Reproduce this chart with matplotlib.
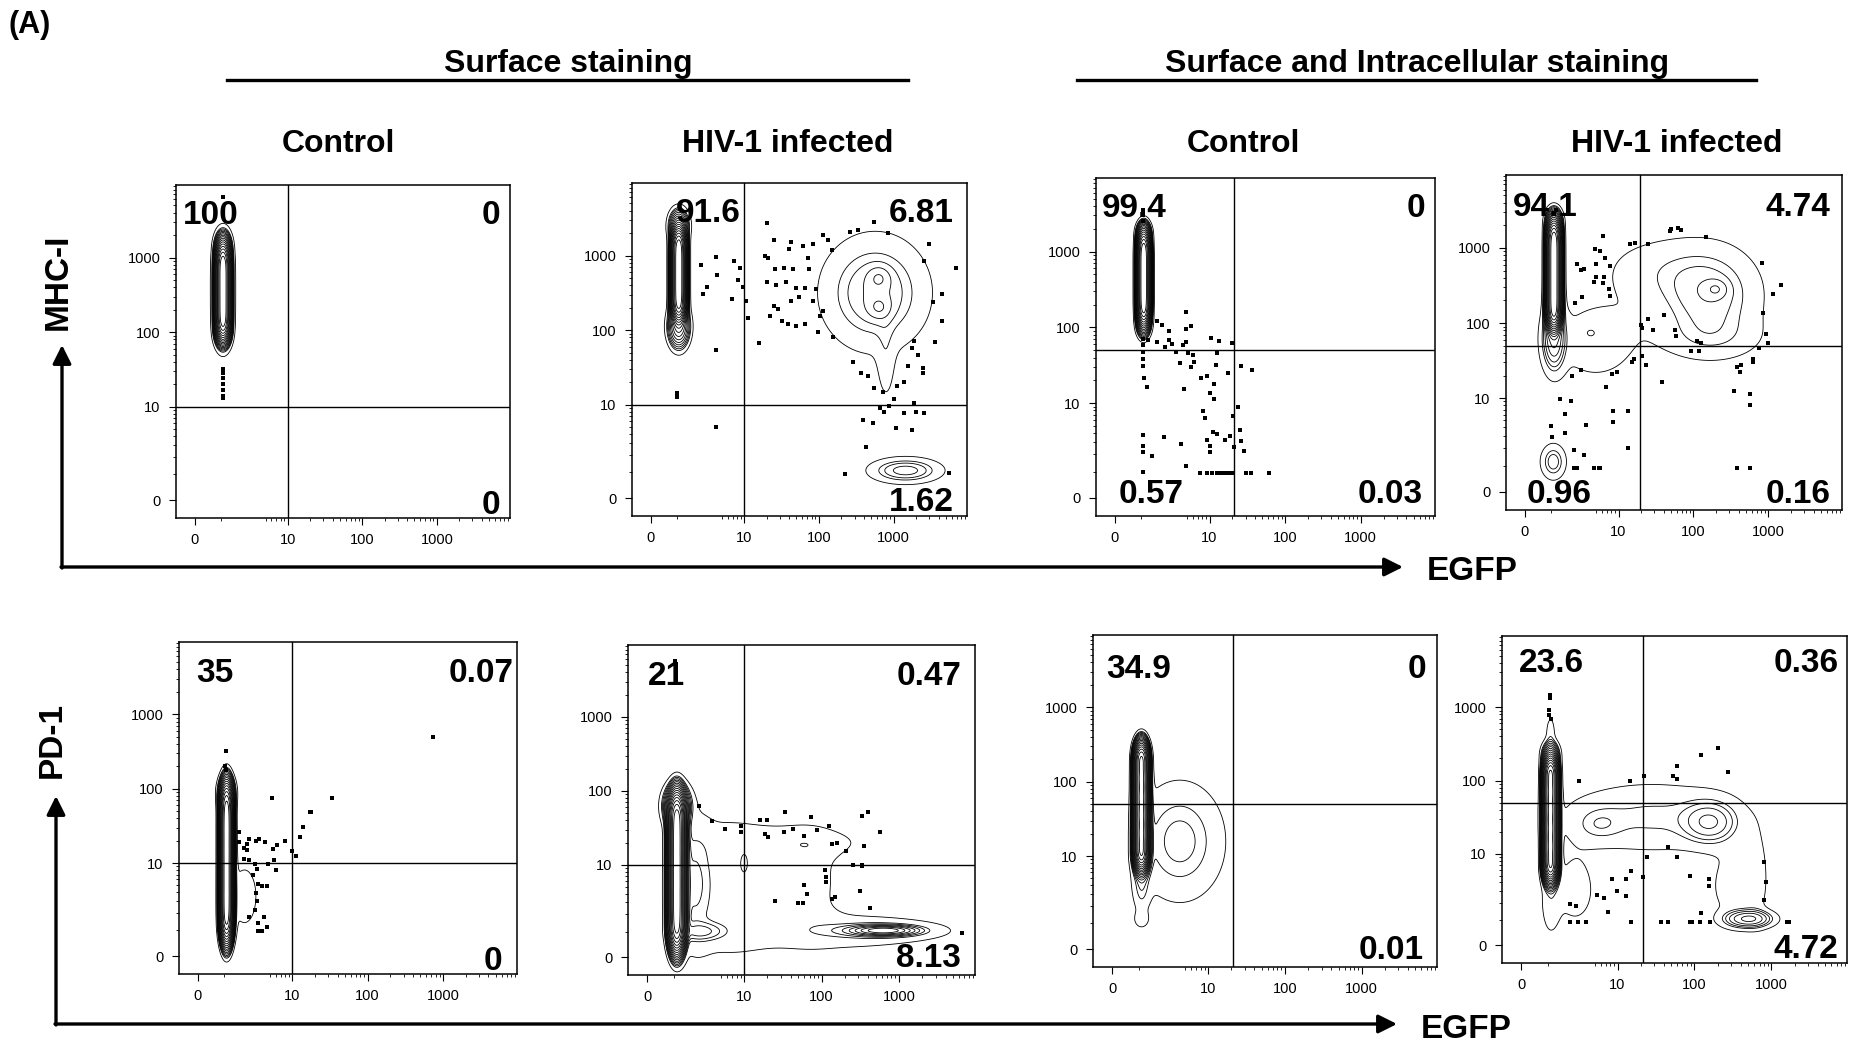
import numpy as np
import matplotlib
matplotlib.use("Agg")
import matplotlib.pyplot as plt
from matplotlib.patches import FancyArrowPatch
from matplotlib.lines import Line2D

plt.rcParams['font.family'] = ['Liberation Sans', 'DejaVu Sans']

# ---------------------------------------------------------------------------
# Data (fluorescence units, EGFP on x, marker on y)
# ---------------------------------------------------------------------------
COLUMN_TITLES = ['Control', 'HIV-1 infected', 'Control', 'HIV-1 infected']
GROUP_TITLES = ['Surface staining', 'Surface and Intracellular staining']
ROW_MARKERS = ['MHC-I', 'PD-1']

# quadrant frequencies (%): upper-left, upper-right, lower-left, lower-right
PCT_MHC_SURF_CTRL = ['100', '0', None, '0']
PCT_MHC_SURF_INF = ['91.6', '6.81', None, '1.62']
PCT_MHC_TOT_CTRL = ['99.4', '0', '0.57', '0.03']
PCT_MHC_TOT_INF = ['94.1', '4.74', '0.96', '0.16']
PCT_PD1_SURF_CTRL = ['35', '0.07', None, '0']
PCT_PD1_SURF_INF = ['21', '0.47', None, '8.13']
PCT_PD1_TOT_CTRL = ['34.9', '0', None, '0.01']
PCT_PD1_TOT_INF = ['23.6', '0.36', None, '4.72']

# quadrant gates (EGFP, marker)
GATE_MHC_SURF_CTRL = (10, 10)
GATE_MHC_SURF_INF = (10, 10)
GATE_MHC_TOT_CTRL = (21.4, 51)
GATE_MHC_TOT_INF = (19.5, 49)
GATE_PD1_SURF_CTRL = (10, 10)
GATE_PD1_SURF_INF = (10, 10)
GATE_PD1_TOT_CTRL = (20.9, 50)
GATE_PD1_TOT_INF = (21.4, 50)

# cell populations: (EGFP centre, marker centre, EGFP spread [decades],
#                    marker spread [decades], relative peak density)
POP_MHC_SURF_CTRL = [
    (1.12, 141, 0.045, 0.12, 1.0), (1.12, 224, 0.045, 0.12, 1.0),
    (1.12, 356, 0.045, 0.12, 1.0), (1.12, 564, 0.045, 0.12, 1.0),
    (1.12, 893, 0.045, 0.12, 1.0), (1.12, 1400, 0.05, 0.1, 0.12),
    (1.12, 100, 0.05, 0.1, 0.12), (1.12, 356, 0.11, 0.6, 0.006),
]
POP_MHC_SURF_INF = [
    (1.1, 224, 0.045, 0.12, 1.0), (1.1, 356, 0.045, 0.12, 1.0),
    (1.1, 564, 0.045, 0.12, 1.0), (1.1, 893, 0.045, 0.12, 1.0),
    (1.1, 1416, 0.045, 0.12, 1.0), (1.1, 112, 0.075, 0.15, 0.08),
    (1.1, 2500, 0.07, 0.12, 0.06),
    (564, 317, 0.42, 0.45, 0.016), (634, 502, 0.1, 0.1, 0.008),
    (634, 200, 0.1, 0.1, 0.008), (790, 35.6, 0.08, 0.35, 0.005),
    (1440, 1.08, 0.28, 0.1, 0.018),
]
POP_MHC_TOT_CTRL = [
    (1.12, 178, 0.04, 0.12, 1.0), (1.12, 283, 0.04, 0.12, 1.0),
    (1.12, 448, 0.04, 0.12, 1.0), (1.12, 710, 0.04, 0.12, 1.0),
    (1.12, 1125, 0.04, 0.12, 1.0), (1.12, 1780, 0.05, 0.08, 0.05),
    (1.12, 112, 0.05, 0.1, 0.05),
]
POP_MHC_TOT_INF = [
    (1.15, 141, 0.045, 0.12, 1.0), (1.15, 224, 0.045, 0.12, 1.0),
    (1.15, 356, 0.045, 0.12, 1.0), (1.15, 564, 0.045, 0.12, 1.0),
    (1.15, 893, 0.045, 0.12, 1.0), (1.15, 1416, 0.045, 0.12, 1.0),
    (1.15, 2245, 0.06, 0.1, 0.05), (1.15, 63, 0.09, 0.25, 0.03),
    (159, 235, 0.42, 0.4, 0.014), (200, 283, 0.1, 0.08, 0.008),
    (31.7, 502, 0.5, 0.3, 0.005), (4.9, 56, 0.45, 0.4, 0.005),
    (178, 63, 0.45, 0.2, 0.005), (4.2, 74, 0.05, 0.04, 0.005),
    (1.12, 1.2, 0.1, 0.14, 0.014),
]
POP_PD1_SURF_CTRL = [
    (1.12, 1.61, 0.04, 0.17, 1.0), (1.12, 3.47, 0.04, 0.17, 1.0),
    (1.12, 7.06, 0.04, 0.17, 1.0), (1.12, 14.2, 0.04, 0.17, 1.0),
    (1.12, 28.3, 0.04, 0.17, 1.0), (1.12, 56.4, 0.04, 0.17, 1.0),
    (1.12, 89, 0.06, 0.12, 0.05), (2.2, 3.5, 0.15, 0.35, 0.005),
]
POP_PD1_SURF_INF = [
    (1.12, 1.19, 0.05, 0.17, 1.0), (1.12, 2.72, 0.05, 0.17, 1.0),
    (1.12, 5.58, 0.05, 0.17, 1.0), (1.12, 11.2, 0.05, 0.17, 1.0),
    (1.12, 22.4, 0.05, 0.17, 1.0), (1.12, 44.8, 0.05, 0.17, 1.0),
    (1.12, 63, 0.09, 0.15, 0.08),
    (564, 1.05, 0.45, 0.07, 0.012), (634, 1.05, 0.22, 0.035, 0.06),
    (5.6, 5.0, 0.5, 0.75, 0.005), (45, 20, 0.65, 0.15, 0.005),
    (71, 6.3, 0.25, 0.45, 0.005), (178, 1.0, 0.9, 0.2, 0.005),
    (2.7, 1.0, 0.2, 0.08, 0.012), (2.1, 5.6, 0.15, 0.5, 0.009),
    (10, 10, 0.05, 0.12, 0.005),
]
POP_PD1_TOT_CTRL = [
    (1.12, 11.2, 0.045, 0.12, 1.0), (1.12, 20, 0.045, 0.12, 1.0),
    (1.12, 35.6, 0.045, 0.12, 1.0), (1.12, 63, 0.045, 0.12, 1.0),
    (1.12, 112, 0.045, 0.12, 1.0), (1.12, 200, 0.045, 0.12, 1.0),
    (4.2, 15.8, 0.35, 0.48, 0.013), (1.12, 1.19, 0.06, 0.07, 0.006),
    (1.12, 4.4, 0.07, 0.25, 0.01),
]
POP_PD1_TOT_INF = [
    (1.12, 7.06, 0.045, 0.12, 1.0), (1.12, 12.6, 0.045, 0.12, 1.0),
    (1.12, 22.4, 0.045, 0.12, 1.0), (1.12, 39.9, 0.045, 0.12, 1.0),
    (1.12, 70.9, 0.045, 0.12, 1.0), (1.12, 126, 0.045, 0.12, 1.0),
    (1.12, 224, 0.06, 0.1, 0.05), (1.12, 448, 0.04, 0.15, 0.006),
    (1.12, 2.1, 0.08, 0.3, 0.006),
    (28, 31.7, 0.75, 0.3, 0.009), (5.6, 25, 0.2, 0.15, 0.006),
    (159, 27, 0.22, 0.18, 0.018), (502, 1.05, 0.19, 0.075, 0.03),
    (634, 5.0, 0.1, 0.4, 0.005), (317, 3.5, 0.22, 0.35, 0.005),
    (2.7, 3.1, 0.2, 0.35, 0.005),
]

# single events drawn as dots (EGFP, marker)
DOTS_MHC_SURF_CTRL = [(1.1, 32), (1.1, 28), (1.1, 24), (1.1, 20), (1.1, 17),
                      (1.1, 14), (1.1, 13), (1.1, 6500)]
DOTS_MHC_SURF_INF = [
    (20, 2700), (25, 1600), (19, 980), (21, 940), (40, 1230), (43, 1520),
    (62, 1350), (83, 1420), (71, 940), (74, 660), (26, 660), (34, 690),
    (45, 660), (20, 440), (27, 400), (36, 440), (49, 370), (55, 276),
    (65, 370), (83, 246), (91, 356), (25, 214), (28, 190), (22, 155),
    (32, 132), (39, 120), (49, 115), (65, 120), (43, 246), (112, 182),
    (105, 155), (98, 94), (155, 80), (112, 1870), (132, 1590), (152, 1180),
    (258, 2090), (332, 2190), (552, 2830), (835, 2000), (2960, 1420),
    (2580, 835), (6780, 690), (4480, 303), (3320, 235), (4480, 132),
    (3560, 69), (1870, 71), (1780, 58), (2090, 47), (1550, 33), (2450, 31),
    (2450, 27), (1380, 20), (1125, 18), (283, 38), (364, 27), (448, 24),
    (552, 16.6), (710, 15), (650, 8.9), (743, 8.1), (874, 9.6),
    (1026, 11.8), (1380, 7.8), (1870, 10.5), (2000, 8.1), (2580, 7.8),
    (390, 6.3), (527, 5.6), (1074, 4.8), (1780, 4.5), (427, 2.6),
    (225, 0.92), (5500, 0.96), (4.2, 957), (4.3, 540), (2.5, 743),
    (2.7, 303), (3.1, 373), (7.4, 855), (8.7, 677), (8.3, 470), (6.9, 263),
    (9.5, 373), (10.7, 246), (11.2, 145), (15.9, 68), (4.1, 55), (4.1, 5.0),
    (1.0, 14.2), (1.0, 12.6),
]
DOTS_MHC_TOT_CTRL = [
    (1.1, 3500), (1.1, 3040), (1.1, 2570), (1.1, 71), (1.1, 58), (1.1, 47),
    (1.1, 38), (1.1, 31), (1.85, 120), (2.2, 107), (2.85, 89), (1.35, 68),
    (1.85, 65), (2.8, 68), (3.1, 60), (2.5, 55), (3.5, 47), (4.0, 34),
    (4.4, 58), (4.8, 162), (4.8, 94), (5.6, 103), (4.9, 65), (5.2, 46),
    (5.6, 30), (6.0, 43), (6.2, 35), (4.5, 15.5), (10.4, 73), (13.5, 66),
    (20, 63), (12.6, 46), (12.3, 32), (17.8, 25), (7.8, 21.4), (9.2, 23),
    (11.5, 17.8), (10, 13.5), (11.5, 11.2), (8.3, 7.8), (8.7, 6.3),
    (9.2, 3.2), (10, 2.6), (10, 2.1), (11.2, 4.1), (12.6, 3.9), (15.9, 3.2),
    (18.7, 3.6), (20.5, 6.8), (21, 2.5), (23.5, 8.9), (25, 4.3), (26, 3.1),
    (29, 2.2), (26, 31), (36.4, 27.5), (1.12, 21.4), (1.3, 16.2),
    (1.1, 3.7), (1.1, 2.6), (1.1, 2.1), (1.1, 0.96), (1.55, 1.85),
    (2.4, 3.5), (4.1, 2.8), (4.8, 1.27), (7.5, 0.92), (9.2, 0.92),
    (10.7, 0.92), (12.6, 0.92), (14.3, 0.92), (16.2, 0.92), (17.8, 0.92),
    (20, 0.92), (30, 0.92), (35, 0.92), (62, 0.92),
]
DOTS_MHC_TOT_INF = [
    (6.1, 1450), (4.8, 980), (5.7, 915), (6.6, 743), (2.7, 618), (3.4, 527),
    (3.1, 503), (5.0, 618), (5.0, 408), (6.3, 408), (4.6, 356), (6.1, 340),
    (7.4, 283), (7.8, 230), (7.8, 577), (3.2, 220), (2.5, 187), (14.3, 1125),
    (16.6, 1180), (24.6, 1125), (48, 1660), (51, 1780), (62, 1870),
    (68, 1750), (145, 1420), (815, 630), (1480, 324), (1150, 246),
    (850, 135), (935, 71), (1000, 54), (760, 46), (630, 33), (630, 30),
    (436, 28), (380, 26), (418, 22), (348, 12.6), (564, 11.2), (564, 8.1),
    (93, 42), (118, 42), (112, 58), (126, 54), (41, 130), (56, 81), (59, 68),
    (29, 80), (24.6, 112), (20, 94), (20.5, 36), (20.5, 85), (23.5, 27.5),
    (16, 33), (15, 30), (38, 16.6), (6.8, 14.2), (8.3, 21), (9.5, 22),
    (3.1, 24), (2.3, 19.5), (8.5, 6.8), (8.5, 4.8), (13.2, 6.6), (13.2, 2.0),
    (1.5, 9.8), (2.2, 9.1), (1.75, 6.1), (1.8, 3.3), (3.6, 4.3), (3.4, 1.55),
    (2.4, 1.9), (1.0, 4.2), (1.05, 2.9), (2.4, 0.92), (2.65, 0.92),
    (4.6, 0.9), (5.5, 0.92), (5.7, 0.92), (380, 0.92), (564, 0.92),
    (1.25, 3170),
]
DOTS_PD1_SURF_CTRL = [
    (1.1, 324), (1.05, 204), (1.1, 180), (5.3, 74), (34, 74), (17.4, 48),
    (18, 48), (14, 31), (12.6, 22.4), (11.2, 12.3), (10, 14.5), (8.1, 20),
    (6.3, 17.4), (5.6, 15.5), (5.7, 11), (6, 8.1), (4.8, 9.8), (4.3, 19),
    (3.6, 21), (3.2, 20), (2.6, 21), (2.4, 18), (2.2, 16.2), (2.4, 15),
    (1.85, 19.4), (1.8, 26), (2.2, 11.5), (2.6, 11), (3.1, 9.8), (3.35, 8.3),
    (2.9, 6.8), (3.5, 5.2), (3.9, 4.9), (4.6, 4.8), (3.25, 3.9), (3.35, 3.0),
    (3.1, 2.2), (3.5, 1.35), (3.9, 0.96), (4.6, 1.15), (4.2, 1.75),
    (2.6, 1.75), (3.5, 0.96), (730, 503),
]
DOTS_PD1_SURF_INF = [
    (1.05, 5640), (2.5, 63), (3.8, 39), (5.7, 30.5), (9.2, 28), (9.2, 33),
    (16.2, 41), (19.6, 41), (18.7, 26), (20.5, 23.5), (34, 51), (32.6, 27.5),
    (43, 30.5), (60, 24.6), (73, 44), (87, 29.5), (123, 33), (138, 19),
    (159, 20), (209, 15.5), (332, 46), (400, 51), (356, 17.8), (564, 28),
    (258, 9.8), (332, 9.8), (332, 9.6), (110, 8.5), (115, 6.9), (115, 5.9),
    (317, 4.4), (427, 2.5), (59, 5.2), (65, 3.9), (50, 2.9), (58, 2.9),
    (135, 3.4), (148, 3.6), (25, 3.1), (6480, 0.92),
]
DOTS_PD1_TOT_CTRL = []
DOTS_PD1_TOT_INF = [
    (1.1, 1450), (1.1, 1330), (1.05, 915), (1.05, 780), (1.15, 700),
    (3.1, 98), (22, 115), (14.5, 98), (53, 115), (59, 105), (59, 159),
    (123, 224), (200, 276), (270, 132), (46, 12.3), (59, 9.1), (24, 9.1),
    (21.5, 4.8), (14.8, 5.8), (12.9, 4.4), (12.9, 2.5), (9.8, 3.0),
    (8.5, 4.5), (6.6, 2.4), (5.3, 2.65), (7.4, 1.4), (14.8, 0.92),
    (2.3, 1.9), (2.8, 1.75), (2.3, 0.92), (3.0, 0.92), (3.8, 0.92),
    (37, 0.92), (46, 0.92), (87, 0.92), (93, 0.92), (118, 0.92), (123, 1.35),
    (159, 0.92), (1590, 0.92), (1700, 0.92), (87, 5.0), (155, 3.5),
    (155, 4.4), (795, 7.8), (850, 4.0), (795, 2.2),
]

TICK_VALUES = [0, 10, 100, 1000]
TICK_LABELS = ['0', '10', '100', '1000']

# ---------------------------------------------------------------------------
# Logicle-like display scale (arcsinh)
# ---------------------------------------------------------------------------
C = 1.128


def fwd(v):
    return np.arcsinh(np.asarray(v, dtype=float) / C) / np.log(10)


def inv(u):
    return C * np.sinh(np.asarray(u, dtype=float) * np.log(10))


X_LIM = (float(inv(-0.25)), float(inv(4.23)))
Y_LIM = (float(inv(-0.24)), float(inv(4.22)))
MINOR_X = [1] + [k for k in range(5, 10)] + [k * 10 for k in range(2, 10)] \
    + [k * 100 for k in range(2, 10)] + [k * 1000 for k in range(2, 10)]
MINOR_Y = [k for k in range(1, 10)] + [k * 10 for k in range(2, 10)] \
    + [k * 100 for k in range(2, 10)] + [k * 1000 for k in range(2, 10)]
# outlier contour, then equal-ratio density contours
LEVELS = np.concatenate([[0.003], np.logspace(np.log10(0.008), 0, 16)])

W, H = 1857, 1046
fig = plt.figure(figsize=(W / 100, H / 100), dpi=100)
fig.patch.set_facecolor('white')


def px_box(l, t, r, b):
    return [l / W, 1 - b / H, (r - l) / W, (b - t) / H]


panels = [
    # box (px), populations, dots, gate, percentages, label x/y positions
    ((176, 185, 510, 518), POP_MHC_SURF_CTRL, DOTS_MHC_SURF_CTRL, GATE_MHC_SURF_CTRL,
     PCT_MHC_SURF_CTRL, (0.022, 0.97, 0.05, 0.97, 0.884, 0.012)),
    ((632, 183, 967, 516), POP_MHC_SURF_INF, DOTS_MHC_SURF_INF, GATE_MHC_SURF_INF,
     PCT_MHC_SURF_INF, (0.13, 0.96, 0.05, 0.96, 0.884, 0.014)),
    ((1096, 178, 1435, 516), POP_MHC_TOT_CTRL, DOTS_MHC_TOT_CTRL, GATE_MHC_TOT_CTRL,
     PCT_MHC_TOT_CTRL, (0.017, 0.97, 0.066, 0.965, 0.885, 0.037)),
    ((1506, 175, 1842, 510), POP_MHC_TOT_INF, DOTS_MHC_TOT_INF, GATE_MHC_TOT_INF,
     PCT_MHC_TOT_INF, (0.02, 0.965, 0.06, 0.965, 0.879, 0.02)),
    ((179, 642, 517, 974), POP_PD1_SURF_CTRL, DOTS_PD1_SURF_CTRL, GATE_PD1_SURF_CTRL,
     PCT_PD1_SURF_CTRL, (0.05, 0.99, 0.05, 0.955, 0.879, 0.012)),
    ((628, 645, 975, 975), POP_PD1_SURF_INF, DOTS_PD1_SURF_INF, GATE_PD1_SURF_INF,
     PCT_PD1_SURF_INF, (0.058, 0.96, 0.05, 0.96, 0.879, 0.025)),
    ((1093, 635, 1437, 967), POP_PD1_TOT_CTRL, DOTS_PD1_TOT_CTRL, GATE_PD1_TOT_CTRL,
     PCT_PD1_TOT_CTRL, (0.037, 0.97, 0.05, 0.96, 0.869, 0.025)),
    ((1502, 636, 1847, 963), POP_PD1_TOT_INF, DOTS_PD1_TOT_INF, GATE_PD1_TOT_INF,
     PCT_PD1_TOT_INF, (0.048, 0.976, 0.05, 0.976, 0.891, 0.015)),
]

ug_x = np.linspace(fwd(X_LIM[0]), fwd(X_LIM[1]), 420)
ug_y = np.linspace(fwd(Y_LIM[0]), fwd(Y_LIM[1]), 420)
UX, UY = np.meshgrid(ug_x, ug_y)

for box, pops, dots, gate, pct, lab in panels:
    ax = fig.add_axes(px_box(*box))
    ax.set_xscale('function', functions=(fwd, inv))
    ax.set_yscale('function', functions=(fwd, inv))
    ax.set_xlim(*X_LIM)
    ax.set_ylim(*Y_LIM)

    # density from the populations, drawn as contour lines
    Z = np.zeros_like(UX)
    for cx, cy, sx, sy, amp in pops:
        Z += amp * np.exp(-0.5 * (((UX - fwd(cx)) / sx) ** 2 + ((UY - fwd(cy)) / sy) ** 2))
    ax.contour(inv(UX), inv(UY), Z, levels=LEVELS, colors='black', linewidths=0.6)

    if dots:
        dx, dy = zip(*dots)
        ax.plot(dx, dy, 's', ms=2.2, mew=0, color='black')

    ax.axvline(gate[0], color='black', lw=1.0)
    ax.axhline(gate[1], color='black', lw=1.0)

    ax.set_xticks(TICK_VALUES)
    ax.set_xticklabels(TICK_LABELS)
    ax.set_yticks(TICK_VALUES)
    ax.set_yticklabels(TICK_LABELS)
    ax.set_xticks(MINOR_X, minor=True)
    ax.set_yticks(MINOR_Y, minor=True)
    ax.tick_params(which='major', direction='out', length=5, width=0.8,
                   labelsize=10.5, pad=6)
    ax.tick_params(which='minor', direction='out', length=2.5, width=0.6)
    for sp in ax.spines.values():
        sp.set_linewidth(1.1)

    ul_x, ur_x, ll_x, lr_x, top_y, bot_y = lab
    kw = dict(transform=ax.transAxes, fontsize=24, fontweight='bold', va='baseline')
    if pct[0]:
        ax.text(ul_x, top_y, pct[0], ha='left', **kw)
    if pct[1]:
        ax.text(ur_x, top_y, pct[1], ha='right', **kw)
    if pct[2]:
        ax.text(ll_x, bot_y, pct[2], ha='left', **kw)
    if pct[3]:
        ax.text(lr_x, bot_y, pct[3], ha='right', **kw)

# ---------------------------------------------------------------------------
# Headers, arrows and labels
# ---------------------------------------------------------------------------
fig.text(8 / W, 1 - 10 / H, '(A)', fontsize=22, fontweight='bold', ha='left', va='top')

for title, xc, (x0, x1) in zip(GROUP_TITLES, [568, 1417], [(227, 908), (1077, 1756)]):
    fig.text(xc / W, 1 - 72 / H, title, fontsize=23, fontweight='bold',
             ha='center', va='baseline')
    fig.add_artist(Line2D([x0 / W, x1 / W], [1 - 80 / H, 1 - 80 / H],
                          color='black', lw=2.4))

for title, xc in zip(COLUMN_TITLES, [338, 788, 1243, 1677]):
    fig.text(xc / W, 1 - 152 / H, title, fontsize=23, fontweight='bold',
             ha='center', va='baseline')


def arrow(x0, y0, x1, y1):
    p = FancyArrowPatch((x0 / W, 1 - y0 / H), (x1 / W, 1 - y1 / H),
                        transform=fig.transFigure,
                        arrowstyle='-|>,head_length=0.8,head_width=0.4',
                        mutation_scale=14, lw=2.4, color='black',
                        shrinkA=0, shrinkB=0)
    fig.patches.append(p)


for (cx, cy, ty, rx, marker, my, ex, ey) in [(62, 567, 345, 1403, ROW_MARKERS[0], 282, 1427, 571),
                                             (56, 1024, 796, 1397, ROW_MARKERS[1], 740, 1421, 1030)]:
    arrow(cx, cy + 1, cx, ty)
    arrow(cx - 1, cy, rx, cy)
    fig.text(cx / W - 4 / W, 1 - my / H, marker, rotation=90, fontsize=24,
             fontweight='bold', ha='center', va='center')
    fig.text(ex / W, 1 - ey / H, 'EGFP', fontsize=24, fontweight='bold',
             ha='left', va='center')

fig.savefig('out.png', dpi=100, facecolor='white')
